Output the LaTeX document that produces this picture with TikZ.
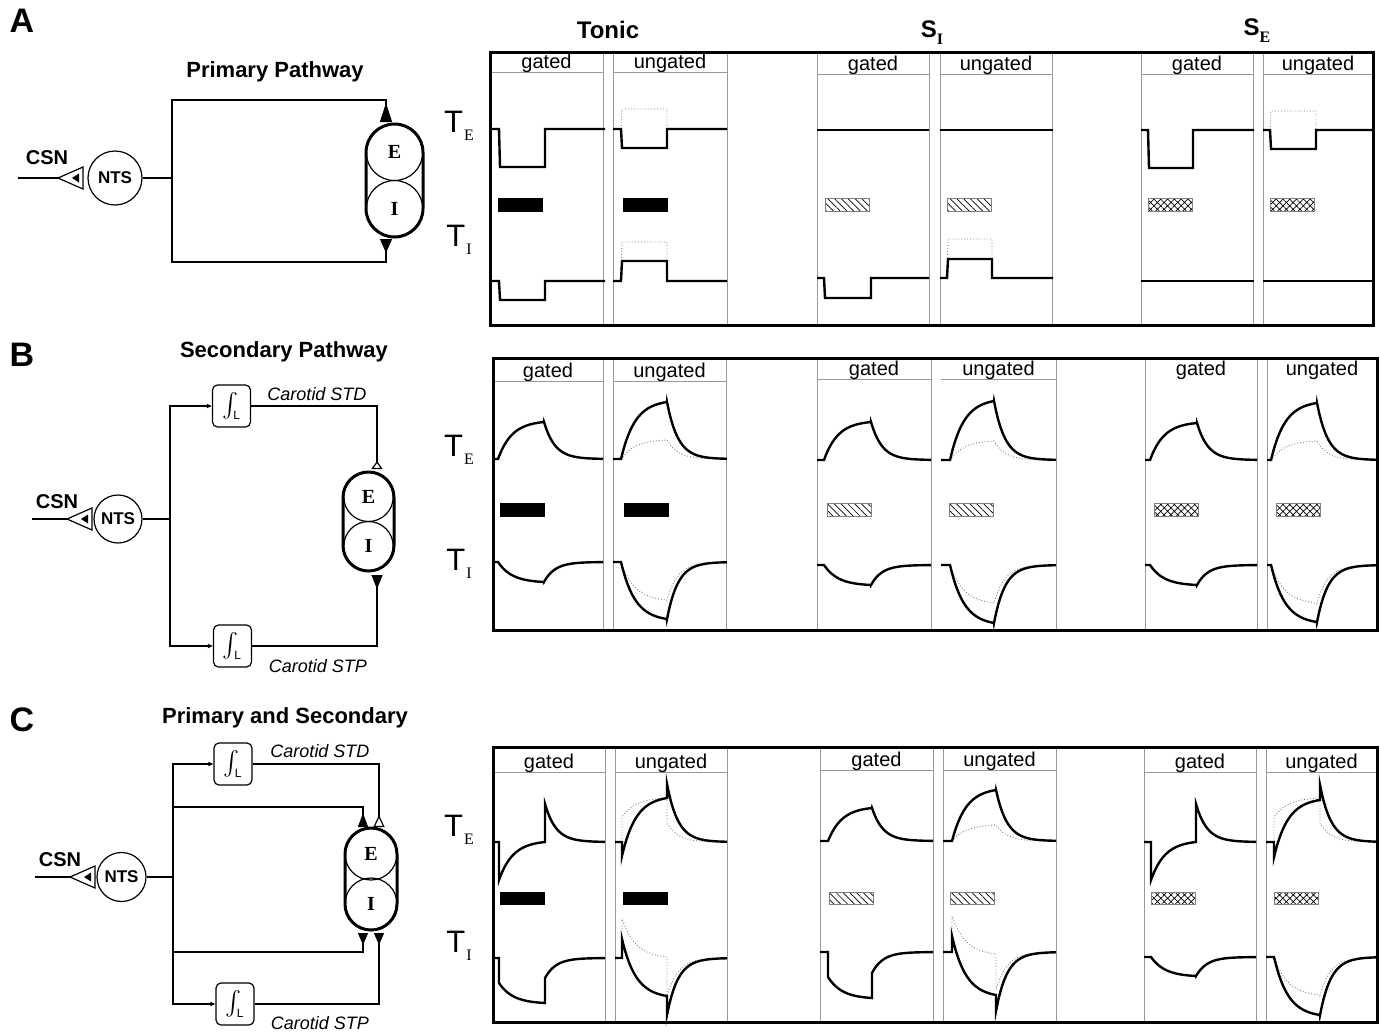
\documentclass[tikz,border=0pt]{standalone}
\usepackage{amsmath}
\usepackage{fontspec}
\setmainfont{Liberation Sans}
\newfontfamily\timesfont{Liberation Serif}
\usetikzlibrary{arrows.meta,positioning,patterns.meta}

\tikzset{declare function={rise(\u,\w)=(1-exp(-\u/14))/(1-exp(-\w/14));}}

% step response: start, onset, offset, end, baseline, height
\newcommand{\pulsewave}[7][trace]{%
  \draw[#1] (#2,#6) -- (#3,#6) -- ({#3+1},{#6-(#7)}) -- (#4,{#6-(#7)}) -- (#4,#6) -- (#5,#6);}

% fast step plus slow exponential: start, onset, offset, end, baseline, step, slow
\newcommand{\wave}[8][trace]{%
  \pgfmathsetmacro\wT{#4-#3}\pgfmathsetmacro\wD{#5-#4}%
  \draw[#1] (#2,#6) -- (#3,#6) -- ({#3},{#6-(#7)})
    -- plot[domain=0:\wT, samples=30] ({#3+\x},{#6-(#7)-(#8)*rise(\x,\wT)})
    -- ({#4},{#6-(#8)})
    -- plot[domain=0:\wD, samples=30] ({#4+\x},{#6-(#8)*exp(-\x/11)});}

\newcommand{\synapse}[1]{%
  \draw[line width=0.6pt] (#1) -- ++(25,-11) -- ++(0,22) -- cycle;
  \fill (#1) ++(14,0) -- ++(7,-4.5) -- ++(0,9) -- cycle;}
\newcommand{\integ}{$\int_{\mbox{\fontsize{6}{6}\selectfont L}}$}
\newcommand{\Tlab}[1]{{\fontsize{15.5}{15.5}\selectfont T}\kern0.5pt\raisebox{-4pt}{\fontsize{8}{8}\selectfont\timesfont #1}}
\newcommand{\Slab}[1]{{\fontsize{12}{12}\selectfont\bfseries S}\raisebox{-3.5pt}{\fontsize{8}{8}\selectfont\timesfont\bfseries #1}}

\begin{document}
\begin{tikzpicture}[x=0.5pt, y=-0.5pt,
    panlab/.style={font=\fontsize{17}{17}\selectfont\bfseries},
    pathtitle/.style={font=\fontsize{11}{11}\selectfont\bfseries},
    csn/.style={font=\fontsize{10}{10}\selectfont\bfseries},
    nts/.style={circle, draw, line width=0.6pt, inner sep=0pt, font=\fontsize{8.5}{8.5}\selectfont\bfseries},
    cell/.style={circle, draw, line width=0.6pt, inner sep=0pt, font=\fontsize{10}{10}\selectfont\timesfont\bfseries},
    capsule/.style={draw, line width=1.5pt, inner sep=0pt},
    intbox/.style={draw, line width=0.6pt, rounded corners=2.5pt, inner sep=0pt, minimum width=19pt, minimum height=21pt, font=\fontsize{13}{13}\selectfont},
    wire/.style={line width=0.6pt},
    carotid/.style={font=\fontsize{9}{9}\selectfont\itshape},
    outbox/.style={line width=1.5pt},
    colline/.style={draw=gray!80, line width=0.5pt},
    hdr/.style={font=\fontsize{10}{10}\selectfont, anchor=base, inner sep=0pt},
    trace/.style={line width=1.2pt},
    ghost/.style={gray, line width=0.45pt, densely dotted},
    solidbar/.style={fill=black},
    linebar/.style={pattern={Lines[angle=-45,distance=2.4pt,line width=0.35pt]}, draw=gray, line width=0.3pt},
    crossbar/.style={pattern={Hatch[angle=45,distance=2.4pt,line width=0.35pt]}, draw=gray, line width=0.3pt}
    ]
    \useasboundingbox (0,0) rectangle (1380,1034);

    % ---------- A: primary pathway ----------
    \node[panlab] (labA) at (22,21) {A};
    \node[pathtitle] (titA) at (275,72) {Primary Pathway};
    \node[csn] (csnA) at (47,158) {CSN};
    \node[nts, minimum size=27pt] (ntsA) at (115,178) {NTS};
    \coordinate (inA) at (18,178);
    \coordinate (synA) at (58,178);
    \coordinate (jA) at (172,178);
    \draw[wire] (inA) -- (synA);
    \synapse{synA}
    \draw[wire] (ntsA) -- (jA);
    \node[capsule, rounded corners=14.25pt, minimum width=28.5pt, minimum height=56.5pt] (EIa) at (394.5,180.5) {};
    \node[cell, minimum size=28.25pt] (Ea) at (394.5,152.25) {E};
    \node[cell, minimum size=28.25pt] (Ia) at (394.5,208.75) {I};
    \coordinate (upA) at (386,122);
    \coordinate (dnA) at (386,239);
    \draw[wire, -{Triangle[reversed,length=9.5pt,width=6pt]}] (jA) |- (386,100) -- (upA);
    \draw[wire, -{Triangle[reversed,length=7pt,width=6pt]}] (jA) |- (386,262) -- (dnA);

    % ---------- B: secondary pathway ----------
    \node[panlab] (labB) at (22,355) {B};
    \node[pathtitle] (titB) at (284,352) {Secondary Pathway};
    \node[csn] (csnB) at (57,502) {CSN};
    \node[nts, minimum size=24pt] (ntsB) at (118,519) {NTS};
    \coordinate (inB) at (32,519);
    \coordinate (synB) at (67,519);
    \coordinate (jB) at (170,519);
    \draw[wire] (inB) -- (synB);
    \synapse{synB}
    \draw[wire] (ntsB) -- (jB);
    \node[intbox] (stdB) at (231.5,406) {\integ};
    \node[intbox] (stpB) at (232.5,646) {\integ};
    \node[carotid] (stdlabB) at (317,394) {Carotid STD};
    \node[carotid] (stplabB) at (318,666) {Carotid STP};
    \node[capsule, rounded corners=12.75pt, minimum width=25.5pt, minimum height=49.5pt] (EIb) at (368.5,521.5) {};
    \node[cell, minimum size=24.75pt] (Eb) at (368.5,496.75) {E};
    \node[cell, minimum size=24.75pt] (Ib) at (368.5,546.25) {I};
    \coordinate (upB) at (377,469);
    \coordinate (dnB) at (377,575);
    \draw[wire, -{Triangle[length=2.5pt,width=2pt]}] (jB) |- (stdB);
    \draw[wire, -{Triangle[length=2.5pt,width=2pt]}] (jB) |- (stpB);
    \draw[wire, -{Triangle[open,reversed,length=4pt,width=5.5pt]}] (stdB) -| (upB);
    \draw[wire, -{Triangle[reversed,length=7pt,width=5.5pt]}] (stpB) -| (dnB);

    % ---------- C: primary and secondary ----------
    \node[panlab] (labC) at (22,720) {C};
    \node[pathtitle] (titC) at (285,718) {Primary and Secondary};
    \node[csn] (csnC) at (60,860) {CSN};
    \node[nts, minimum size=24.5pt] (ntsC) at (121.5,877) {NTS};
    \coordinate (inC) at (35,877);
    \coordinate (synC) at (70,877);
    \coordinate (jC) at (173,877);
    \draw[wire] (inC) -- (synC);
    \synapse{synC}
    \draw[wire] (ntsC) -- (jC);
    \node[intbox] (stdC) at (233,764) {\integ};
    \node[intbox] (stpC) at (235,1004) {\integ};
    \node[carotid] (stdlabC) at (320,751) {Carotid STD};
    \node[carotid] (stplabC) at (320,1023) {Carotid STP};
    \node[capsule, rounded corners=13pt, minimum width=26pt, minimum height=51pt] (EIc) at (371,879) {};
    \node[cell, minimum size=26pt] (Ec) at (371,854) {E};
    \node[cell, minimum size=26pt] (Ic) at (371,904) {I};
    \coordinate (upC1) at (363,827);
    \coordinate (upC2) at (379,827);
    \coordinate (dnC1) at (363,933);
    \coordinate (dnC2) at (379,933);
    \draw[wire, -{Triangle[length=2.5pt,width=2pt]}] (jC) |- (stdC);
    \draw[wire, -{Triangle[length=2.5pt,width=2pt]}] (jC) |- (stpC);
    \draw[wire, -{Triangle[reversed,length=7pt,width=5pt]}] (jC) |- (363,807) -- (upC1);
    \draw[wire, -{Triangle[open,reversed,length=6pt,width=5.5pt]}] (stdC) -| (upC2);
    \draw[wire, -{Triangle[reversed,length=6pt,width=5pt]}] (jC) |- (363,952) -- (dnC1);
    \draw[wire, -{Triangle[reversed,length=6pt,width=5pt]}] (stpC) -| (dnC2);

    % ---------- column titles ----------
    \node[font=\fontsize{12}{12}\selectfont\bfseries] (tonic) at (608,30) {Tonic};
    \node (sI) at (932,33) {\Slab{I}};
    \node (sE) at (1257,31) {\Slab{E}};

    % ---------- traces A ----------
    \foreach \v in {603,613,727,817,929,940,1052,1141,1253,1263}
        \draw[colline] (\v,52) -- (\v,324);
    \foreach \l/\r/\h/\w [count=\i] in {490/603/72/gated, 613/727/72/ungated, 817/929/74/gated,
            940/1052/74/ungated, 1141/1253/74/gated, 1263/1373/74/ungated} {
        \draw[colline] (\l,\h) -- (\r,\h);
        \node[hdr] (hdrA\i) at ({(\l+\r)/2},{\h-4}) {\w};
    }
    \node (teA) at (459,126) {\Tlab{E}};
    \node (tiA) at (459,240) {\Tlab{I}};
    \pulsewave{490}{499}{545}{605}{129}{-38}
    \pulsewave{490}{499}{545}{605}{281}{-19}
    \pulsewave[ghost]{621}{621}{667}{667}{129}{20}
    \pulsewave{613}{621}{667}{727}{129}{-19}
    \pulsewave[ghost]{621}{621}{667}{667}{281}{39}
    \pulsewave{613}{621}{667}{727}{281}{20}
    \draw[trace] (817,130) -- (929,130);
    \pulsewave{817}{824}{871}{929}{278}{-20}
    \draw[trace] (940,130) -- (1053,130);
    \pulsewave[ghost]{947}{947}{992}{992}{278}{39}
    \pulsewave{940}{947}{992}{1053}{278}{19}
    \pulsewave{1141}{1148}{1193}{1254}{130}{-38}
    \draw[trace] (1141,281) -- (1254,281);
    \pulsewave[ghost]{1270}{1270}{1316}{1316}{130}{19}
    \pulsewave{1263}{1270}{1316}{1373}{130}{-19}
    \draw[trace] (1263,281) -- (1373,281);
    \foreach \a/\s in {498/solidbar, 623/solidbar, 825/linebar, 947/linebar, 1148/crossbar, 1270/crossbar}
        \draw[\s] (\a,198) rectangle ++(44,13);
    \draw[outbox] (490,52) rectangle (1373,325);

    % ---------- traces B ----------
    \foreach \v in {603,613,726,817,931,1056,1145,1257,1267}
        \draw[colline] (\v,358) -- (\v,630);
    \foreach \l/\r/\h/\w/\s [count=\i] in {493/603/381/gated/1, 613/726/381/ungated/1, 817/931/379/gated/1,
            941/1056/379/ungated/1, 1145/1257/379/gated/0, 1267/1377/379/ungated/0} {
        \ifnum\s=1 \draw[colline] (\l,\h) -- (\r,\h); \fi
        \node[hdr] (hdrB\i) at ({(\l+\r)/2},{\h-4}) {\w};
    }
    \node (teB) at (459,450) {\Tlab{E}};
    \node (tiB) at (459,564) {\Tlab{I}};
    \wave{493}{498}{544}{603}{459}{0}{37}
    \wave{493}{498}{544}{603}{562}{0}{-20}
    \wave[ghost]{621}{621}{667}{727}{459}{0}{19}
    \wave{613}{621}{667}{727}{459}{0}{57}
    \wave[ghost]{621}{621}{667}{727}{562}{0}{-38}
    \wave{613}{621}{667}{727}{562}{0}{-57}
    \wave{817}{824}{871}{931}{460}{0}{38}
    \wave{817}{824}{871}{931}{565}{0}{-20}
    \wave[ghost]{950}{950}{994}{1056}{460}{0}{19}
    \wave{941}{950}{994}{1056}{460}{0}{59}
    \wave[ghost]{950}{950}{994}{1056}{565}{0}{-38}
    \wave{941}{950}{994}{1056}{565}{0}{-58}
    \wave{1145}{1150}{1197}{1257}{460}{0}{37}
    \wave{1145}{1150}{1197}{1257}{565}{0}{-20}
    \wave[ghost]{1271}{1271}{1317}{1377}{460}{0}{19}
    \wave{1267}{1271}{1317}{1377}{460}{0}{57}
    \wave[ghost]{1271}{1271}{1317}{1377}{565}{0}{-38}
    \wave{1267}{1271}{1317}{1377}{565}{0}{-57}
    \foreach \a/\s in {500/solidbar, 624/solidbar, 827/linebar, 949/linebar, 1154/crossbar, 1276/crossbar}
        \draw[\s] (\a,503) rectangle ++(44,13);
    \draw[outbox] (493,358) rectangle (1377,630);

    % ---------- traces C ----------
    \foreach \v in {605,615,727,820,933,943,1056,1144,1256,1266}
        \draw[colline] (\v,747) -- (\v,1022);
    \foreach \l/\r/\h/\w [count=\i] in {493/605/772/gated, 615/727/772/ungated, 820/933/770/gated,
            943/1056/770/ungated, 1144/1256/772/gated, 1266/1377/772/ungated} {
        \draw[colline] (\l,\h) -- (\r,\h);
        \node[hdr] (hdrC\i) at ({(\l+\r)/2},{\h-4}) {\w};
    }
    \node (teC) at (459,830) {\Tlab{E}};
    \node (tiC) at (459,946) {\Tlab{I}};
    \wave{493}{499}{545}{605}{842}{-38}{38}
    \wave{493}{499}{545}{605}{958}{-25}{-20}
    \wave[ghost]{622}{622}{667}{727}{842}{25}{19}
    \wave{615}{622}{667}{727}{842}{-14}{58}
    \wave[ghost]{622}{622}{667}{727}{958}{39}{-38}
    \wave{615}{622}{667}{727}{958}{19}{-57}
    \wave{820}{828}{872}{933}{841}{0}{33}
    \wave{820}{828}{872}{933}{952}{-25}{-21}
    \wave[ghost]{952}{952}{996}{1056}{841}{0}{16}
    \wave{943}{952}{996}{1056}{841}{0}{51}
    \wave[ghost]{952}{952}{996}{1056}{952}{36}{-38}
    \wave{943}{952}{996}{1056}{952}{16}{-59}
    \wave{1144}{1151}{1196}{1256}{842}{-38}{38}
    \wave{1144}{1151}{1196}{1256}{957}{0}{-19}
    \wave[ghost]{1274}{1274}{1320}{1377}{842}{25}{19}
    \wave{1266}{1274}{1320}{1377}{842}{-15}{57}
    \wave[ghost]{1274}{1274}{1320}{1377}{957}{0}{-38}
    \wave{1266}{1274}{1320}{1377}{957}{0}{-58}
    \foreach \a/\s in {500/solidbar, 623/solidbar, 829/linebar, 950/linebar, 1151/crossbar, 1274/crossbar}
        \draw[\s] (\a,892) rectangle ++(44,12);
    \draw[outbox] (493,747) rectangle (1377,1022);
\end{tikzpicture}
\end{document}
